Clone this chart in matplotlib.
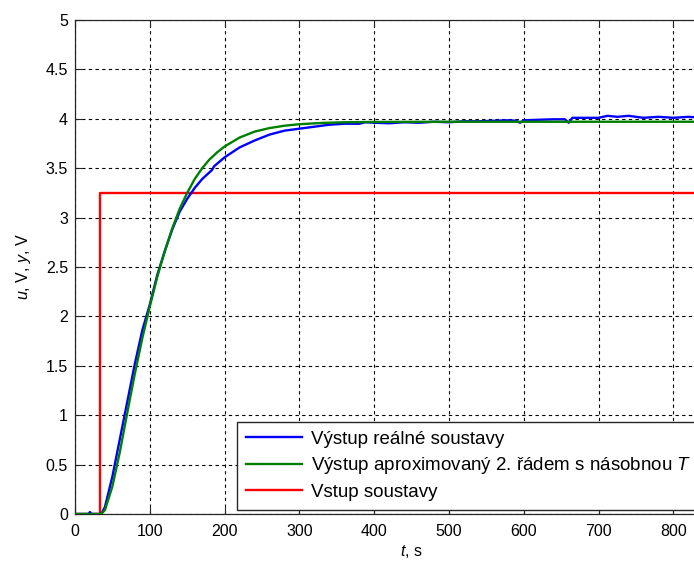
import matplotlib
matplotlib.use("Agg")
import matplotlib.pyplot as plt

plt.rcParams['font.family'] = ['Liberation Sans', 'DejaVu Sans']
plt.rcParams['mathtext.fontset'] = 'custom'
plt.rcParams['mathtext.it'] = 'Liberation Sans:italic'
plt.rcParams['mathtext.rm'] = 'Liberation Sans'

# Input step
t_in = [0, 33, 33, 900]
u_in = [0, 0, 3.25, 3.25]

# Real system output (blue)
t_real = [0, 18, 20, 22, 25, 35, 40, 50, 60, 70, 80, 90, 100, 110, 120, 130, 140, 150,
          160, 170, 180, 183, 186, 200, 220, 240, 260, 280, 300, 320, 340, 360, 380,
          388, 400, 420, 440, 460, 480, 500, 520, 540, 560, 580, 590, 595, 600, 620,
          640, 655, 660, 665, 680, 700, 712, 725, 740, 760, 780, 800, 820, 840]
y_real = [0, 0, 0.02, 0, 0, 0, 0.07, 0.38, 0.76, 1.14, 1.52, 1.86, 2.12, 2.42, 2.66, 2.88,
          3.06, 3.19, 3.30, 3.39, 3.46, 3.48, 3.52, 3.61, 3.71, 3.78, 3.84, 3.88, 3.90, 3.92,
          3.94, 3.95, 3.95, 3.965, 3.96, 3.955, 3.965, 3.96, 3.97, 3.965, 3.975, 3.975, 3.98,
          3.985, 3.98, 3.96, 3.985, 3.99, 3.995, 3.995, 3.96, 4.01, 4.01, 4.01, 4.03, 4.02,
          4.03, 4.01, 4.02, 4.01, 4.02, 4.01]

# Approximated 2nd-order output (green)
t_apx = [0, 35, 40, 50, 60, 70, 80, 90, 100, 110, 120, 130, 140, 150, 160, 170, 180, 190,
         200, 220, 240, 260, 280, 300, 330, 360, 400, 500, 600, 700, 800, 900]
y_apx = [0, 0, 0.04, 0.28, 0.63, 1.03, 1.42, 1.78, 2.10, 2.40, 2.66, 2.89, 3.09, 3.25,
         3.39, 3.50, 3.59, 3.66, 3.72, 3.81, 3.87, 3.906, 3.93, 3.945, 3.958, 3.965, 3.968,
         3.97, 3.97, 3.97, 3.97, 3.97]

labels = ['Výstup reálné soustavy',
          'Výstup aproximovaný 2. řádem s násobnou $T$',
          'Vstup soustavy']
x_ticks = [0, 100, 200, 300, 400, 500, 600, 700, 800]
y_ticks = [0, 0.5, 1, 1.5, 2, 2.5, 3, 3.5, 4, 4.5, 5]
y_tick_labels = ['0', '0.5', '1', '1.5', '2', '2.5', '3', '3.5', '4', '4.5', '5']

W, H = 694, 562
fig = plt.figure(figsize=(W / 100, H / 100), dpi=100)
ax_left, ax_bottom, ax_top = 75, 514, 20
xmax = 900
px_per_unit = 0.748
ax = fig.add_axes([ax_left / W, (H - ax_bottom) / H, xmax * px_per_unit / W,
                   (ax_bottom - ax_top) / H])

ax.plot(t_real, y_real, color='#0000ff', lw=1.7, label=labels[0], zorder=3)
ax.plot(t_apx, y_apx, color='#008000', lw=1.7, label=labels[1], zorder=4)
ax.plot(t_in, u_in, color='#ff0000', lw=1.7, label=labels[2], zorder=2)

ax.set_xlim(0, xmax)
ax.set_ylim(0, 5)
ax.set_xticks(x_ticks)
ax.set_yticks(y_ticks)
ax.set_yticklabels(y_tick_labels)
ax.grid(True, color='black', linestyle=(0, (3, 3)), linewidth=0.8)
ax.tick_params(direction='in', length=5, width=0.8, labelsize=11.5, colors='#262626',
               top=True, right=True, labelcolor='black')
ax.tick_params(axis='x', pad=7)
ax.tick_params(axis='y', pad=5)
for s in ax.spines.values():
    s.set_color('#262626')
    s.set_linewidth(0.9)

ax.set_xlabel('$t$, s', fontsize=11.5, labelpad=3)
ax.set_ylabel('$u$, V, $y$, V', fontsize=11.5, labelpad=9)

leg = fig.legend(loc='lower left', bbox_to_anchor=(237 / W, (H - 510) / H),
                 fontsize=13.5, handlelength=3.0, labelspacing=0.4, borderpad=0.48,
                 handletextpad=0.45, fancybox=False, framealpha=1, edgecolor='#262626',
                 borderaxespad=0)
leg.get_frame().set_linewidth(1.0)

fig.savefig('out.png', dpi=100)
